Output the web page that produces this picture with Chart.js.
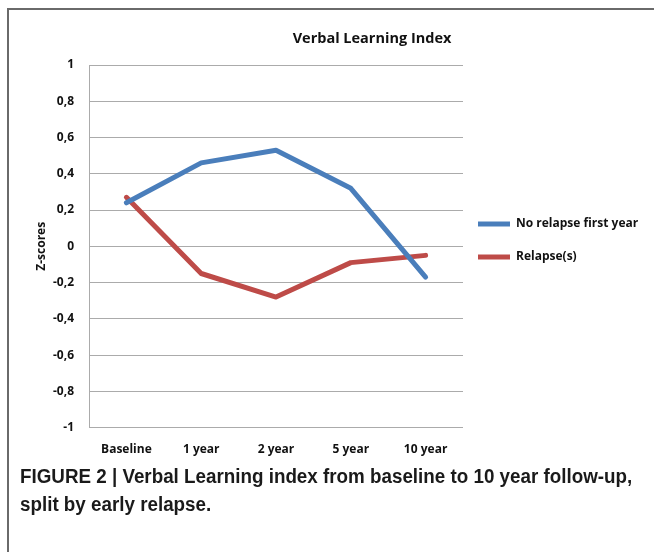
<!DOCTYPE html>
<html><head><meta charset="utf-8">
<script src="https://cdn.jsdelivr.net/npm/chart.js@4/dist/chart.umd.min.js"></script>
<style>
html,body{margin:0;padding:0;background:#fff;}
#page{position:relative;width:654px;height:552px;overflow:hidden;}
#frame{position:absolute;left:7px;top:8px;width:700px;height:600px;border:2px solid #6a6a6a;box-sizing:border-box;}
#wrap{position:absolute;left:0;top:0;width:654px;height:480px;}
#title{position:absolute;top:28px;left:222px;width:300px;text-align:center;font:bold 14.5px 'Open Sans', sans-serif;color:#111;}
#caption{position:absolute;left:20px;top:462px;font:bold 20px 'Liberation Sans',sans-serif;line-height:28px;color:#1a1a1a;white-space:nowrap;transform:scaleX(0.94);transform-origin:0 0;}
</style></head>
<body>
<div id="page">
  <div id="frame"></div>
  <div id="wrap"><canvas id="c"></canvas></div>
  <div id="title">Verbal Learning Index</div>
  <div id="caption">FIGURE 2 | Verbal Learning index from baseline to 10 year follow-up,<br>split by early relapse.</div>
</div>
<script>
const categories = ['Baseline', '1 year', '2 year', '5 year', '10 year'];
const noRelapse = [0.24, 0.46, 0.53, 0.32, -0.17];
const relapse = [0.27, -0.15, -0.28, -0.09, -0.05];
const seriesNames = ['No relapse first year', 'Relapse(s)'];
const yTickValues = [-1, -0.8, -0.6, -0.4, -0.2, 0, 0.2, 0.4, 0.6, 0.8, 1];
const yTickLabels = ['-1', '-0,8', '-0,6', '-0,4', '-0,2', '0', '0,2', '0,4', '0,6', '0,8', '1'];

const FONT = "'Open Sans', sans-serif";
const LEGEND_BOX_WIDTH = 191;
const legendTweak = {
  id: 'legendTweak',
  beforeLayout(chart) {
    const lg = chart.legend;
    if (lg && !lg._tweaked) {
      const origFit = lg.fit.bind(lg);
      lg.fit = function () { origFit(); this.width = LEGEND_BOX_WIDTH; };
      lg._tweaked = true;
    }
  },
  afterLayout(chart) {
    const lg = chart.legend;
    lg.left -= 6;
    lg.top -= 28; lg.bottom -= 28;
  }
};

new Chart(document.getElementById('c'), {
  type: 'line',
  data: {
    labels: categories,
    datasets: [
      { label: seriesNames[0], data: noRelapse, borderColor: '#4a7ebb', backgroundColor: '#4a7ebb',
        borderWidth: 5, pointRadius: 0, tension: 0, borderCapStyle: 'round', borderJoinStyle: 'round' },
      { label: seriesNames[1], data: relapse, borderColor: '#be4b48', backgroundColor: '#be4b48',
        borderWidth: 5, pointRadius: 0, tension: 0, borderCapStyle: 'round', borderJoinStyle: 'round' }
    ]
  },
  options: {
    responsive: true,
    maintainAspectRatio: false,
    animation: false,
    layout: { padding: { left: 20, right: 0, top: 65, bottom: 8 } },
    plugins: {
      title: { display: false },
      tooltip: { enabled: false },
      legend: {
        position: 'right',
        labels: {
          usePointStyle: true, pointStyle: 'line', pointStyleWidth: 32,
          padding: 21, color: '#111',
          font: { family: FONT, size: 12, weight: 'bold' }
        }
      }
    },
    scales: {
      x: {
        offset: true,
        grid: { display: false, drawTicks: false },
        border: { display: false },
        ticks: { padding: 15, color: '#111', font: { family: FONT, size: 12, weight: 'bold' } }
      },
      y: {
        min: -1, max: 1,
        afterFit(scale) { scale.width = 69; },
        afterBuildTicks(scale) { scale.ticks = yTickValues.map(v => ({ value: v })); },
        grid: { color: '#ababab', lineWidth: 1, drawTicks: false },
        border: { display: true, color: '#ababab', width: 1 },
        ticks: {
          padding: 15, color: '#111', font: { family: FONT, size: 12, weight: 'bold' },
          callback(v) { const i = yTickValues.findIndex(t => Math.abs(t - v) < 1e-9); return i >= 0 ? yTickLabels[i] : ''; }
        },
        title: { display: true, text: 'Z-scores', color: '#111', font: { family: FONT, size: 12, weight: 'bold' }, padding: { top: 14, bottom: 0 } }
      }
    }
  },
  plugins: [legendTweak]
});
</script>
</body></html>
